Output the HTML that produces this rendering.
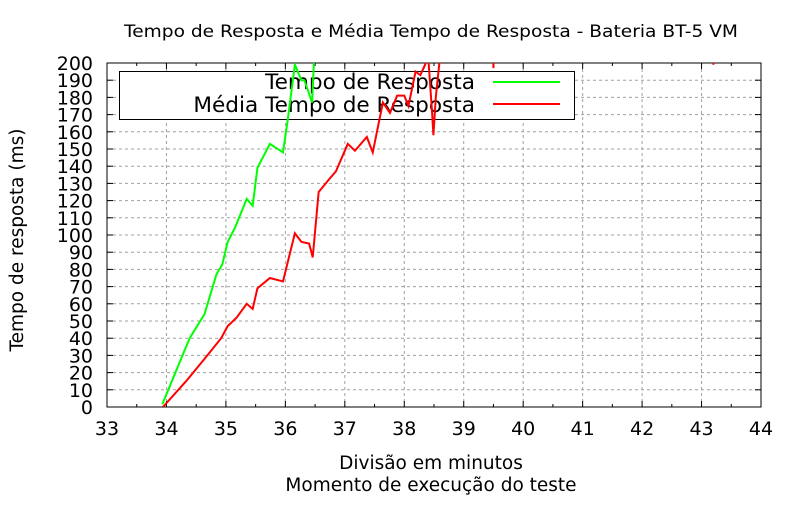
<!DOCTYPE html>
<html><head><meta charset="utf-8"><style>
html,body{margin:0;padding:0;background:#fff;}
svg{display:block;font-family:"DejaVu Sans","Liberation Sans",sans-serif;}
</style></head><body>
<svg id="chart" width="800" height="520" viewBox="0 0 800 520">
<defs><clipPath id="pc"><rect x="107" y="63" width="654" height="344"/></clipPath></defs>
<rect x="0" y="0" width="800" height="520" fill="#fff"/>
<text x="431" y="37" text-anchor="middle" font-size="17" textLength="614" lengthAdjust="spacingAndGlyphs">Tempo de Resposta e Média Tempo de Resposta - Bateria BT-5 VM</text>
<g id="grid"></g>
<g id="ticks"></g>
<rect x="107" y="63" width="654" height="344" fill="none" stroke="#000" stroke-width="1"/>
<g>
<rect x="119.5" y="71.5" width="455" height="48" fill="#fff" stroke="#000"/>
<text x="475" y="89" text-anchor="end" font-size="21.6">Tempo de Resposta</text>
<line x1="493" y1="82" x2="560" y2="82" stroke="#00ff00" stroke-width="2"/>
<text x="475" y="112" text-anchor="end" font-size="21.6">Média Tempo de Resposta</text>
<line x1="493" y1="104" x2="560" y2="104" stroke="#ff0000" stroke-width="2"/>
</g>
<g id="series" clip-path="url(#pc)"></g>
<text x="431" y="469" text-anchor="middle" font-size="18.5">Divisão em minutos</text>
<text x="431" y="491" text-anchor="middle" font-size="18.5">Momento de execução do teste</text>
<text transform="translate(23,240) rotate(-90)" text-anchor="middle" font-size="18.5">Tempo de resposta (ms)</text>
</svg>
<script>
const xTicks=[33,34,35,36,37,38,39,40,41,42,43,44];
const yTicks=[0,10,20,30,40,50,60,70,80,90,100,110,120,130,140,150,160,170,180,190,200];
const tempoX=[33.93,34.39,34.64,34.84,34.94,35.03,35.15,35.35,35.45,35.53,35.74,35.96,36.04,36.16,36.27,36.32,36.45,36.48,36.52];
const tempoY=[1.6,40,54,77,83,96,104,121,117,139,153,148,167,199,190,190,177,200,215];
const mediaX=[33.94,34.33,34.64,34.92,35.03,35.18,35.35,35.45,35.53,35.74,35.96,36.16,36.27,36.4,36.46,36.56,36.75,36.85,37.05,37.17,37.37,37.47,37.64,37.76,37.88,38.0,38.07,38.19,38.27,38.35,38.4,38.47,38.49,38.53,38.59,38.62,39.48,39.5,39.52,43.18,43.2,43.22];
const mediaY=[0,15,28,40,47,52,60,57,69,75,73,101,96,95,87,125,133,137,153,149,157,148,177,171,181,181,175,195,193,199,205,170,158,180,200,215,240,197,240,240,199,240];
const X0=33,X1=44,Y0=0,Y1=200,L=107,R=761,T=63,B=407;
function sx(v){return L+(v-X0)/(X1-X0)*(R-L);}
function sy(v){return B-(v-Y0)/(Y1-Y0)*(B-T);}
const NS='http://www.w3.org/2000/svg';
function mk(tag,at,parent){const e=document.createElementNS(NS,tag);for(const k in at)e.setAttribute(k,at[k]);parent.appendChild(e);return e;}
const grid=document.getElementById('grid'),ticks=document.getElementById('ticks'),series=document.getElementById('series');
xTicks.forEach(v=>{const x=sx(v);
 if(v>X0&&v<X1){const g=mk('line',{x1:x,y1:T,x2:x,y2:B,stroke:'#a0a0a0','stroke-dasharray':'3,3'},grid);
 
 }
 const t=mk('text',{x:x,y:B+28,'text-anchor':'middle','font-size':'19'},ticks);t.textContent=v;
 
 
 mk('line',{x1:x,y1:B,x2:x,y2:B-6,stroke:'#000'},ticks);mk('line',{x1:x,y1:T,x2:x,y2:T+6,stroke:'#000'},ticks);
 if(v<X1){const h=sx(v+0.5);mk('line',{x1:h,y1:B,x2:h,y2:B-3,stroke:'#000'},ticks);mk('line',{x1:h,y1:T,x2:h,y2:T+3,stroke:'#000'},ticks);}
});
yTicks.forEach(v=>{const y=sy(v);
 if(v>Y0&&v<Y1){const g=mk('line',{x1:L,y1:y,x2:R,y2:y,stroke:'#a0a0a0','stroke-dasharray':'3,3'},grid);
 
 }
 const t=mk('text',{x:L-14,y:y+7,'text-anchor':'end','font-size':'19'},ticks);t.textContent=v;
 
 
 mk('line',{x1:L,y1:y,x2:L+6,y2:y,stroke:'#000'},ticks);mk('line',{x1:R,y1:y,x2:R-6,y2:y,stroke:'#000'},ticks);
});
function line(xs,ys,col,name){const p=mk('polyline',{points:xs.map((x,i)=>sx(x)+','+sy(ys[i])).join(' '),fill:'none',stroke:col,'stroke-width':'2','stroke-linejoin':'miter'},series);
 
 }
line(tempoX,tempoY,'#00ff00','tempo-resposta-line');
line(mediaX,mediaY,'#ff0000','media-tempo-resposta-line');
</script>
</body></html>
